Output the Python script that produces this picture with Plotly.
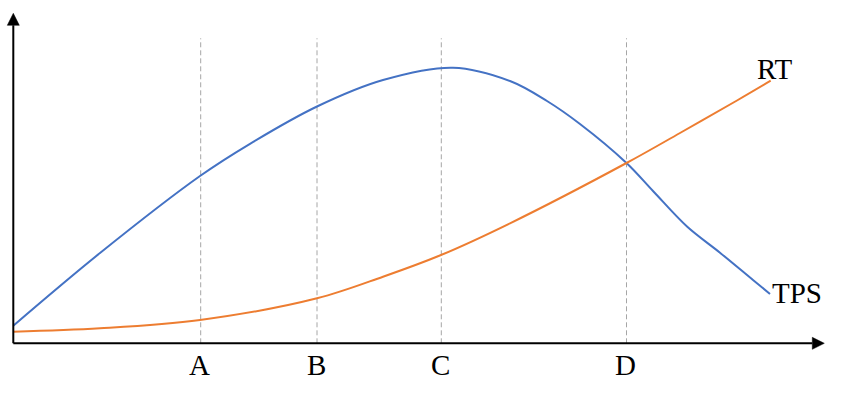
import plotly.graph_objects as go

# Values (chart units: x to the right of the y-axis, y above the x-axis)
tps_x = [0, 86.7, 186.7, 236.7, 303.7, 369.7, 439.7, 496.7, 533.7, 566.7, 613.2, 639.7, 673.7, 706.7, 739.7, 756.7]
tps_y = [17.6, 90.3, 167.3, 199.5, 236.8, 263.3, 275.6, 262.3, 242.3, 219.3, 180.3, 152.3, 116.8, 90.6, 63.3, 49.3]
rt_x = [0, 86.7, 186.7, 303.7, 369.7, 427.7, 496.7, 613.2, 666.7, 723.7, 757.4]
rt_y = [11.6, 15, 23.3, 45, 66.6, 88.3, 120, 180.3, 210.3, 242.8, 262.6]
marker_labels = ["A", "B", "C", "D"]
marker_x = [187.4, 303.7, 428, 613.2]
series_names = ["TPS", "RT"]

BLUE = "#4472C4"
ORANGE = "#ED7D31"
FONT = "Liberation Serif"

X_RANGE = [-13.3, 827.7]
Y_RANGE = [-55.7, 343.3]
DASH_TOP = 305
X_ARROW_TIP = 811
Y_ARROW_TIP = 330
ARROW_LEN = 12
ARROW_HALF = 6

fig = go.Figure()

fig.add_trace(go.Scatter(x=tps_x, y=tps_y, mode="lines", name=series_names[0],
                         line=dict(color=BLUE, width=2, shape="spline", smoothing=1.0),
                         hoverinfo="skip"))
fig.add_trace(go.Scatter(x=rt_x, y=rt_y, mode="lines", name=series_names[1],
                         line=dict(color=ORANGE, width=2, shape="spline", smoothing=1.0),
                         hoverinfo="skip"))

shapes = []
for mx in marker_x:
    shapes.append(dict(type="line", xref="x", yref="y", x0=mx, x1=mx, y0=0, y1=DASH_TOP,
                       line=dict(color="#A6A6A6", width=1, dash="5px,3px"), layer="below"))
# axes
shapes.append(dict(type="line", xref="x", yref="y", x0=0, x1=X_ARROW_TIP - ARROW_LEN, y0=0, y1=0,
                   line=dict(color="black", width=2)))
shapes.append(dict(type="line", xref="x", yref="y", x0=0, x1=0, y0=0, y1=Y_ARROW_TIP - ARROW_LEN,
                   line=dict(color="black", width=2)))
# arrow heads
shapes.append(dict(type="path", xref="x", yref="y",
                   path=f"M {X_ARROW_TIP} 0 L {X_ARROW_TIP-ARROW_LEN} {ARROW_HALF} L {X_ARROW_TIP-ARROW_LEN} {-ARROW_HALF} Z",
                   fillcolor="black", line=dict(color="black", width=0.5)))
shapes.append(dict(type="path", xref="x", yref="y",
                   path=f"M 0 {Y_ARROW_TIP} L {ARROW_HALF} {Y_ARROW_TIP-ARROW_LEN} L {-ARROW_HALF} {Y_ARROW_TIP-ARROW_LEN} Z",
                   fillcolor="black", line=dict(color="black", width=0.5)))

label_font = dict(family=FONT, size=29, color="black")
annotations = []
for lab, mx in zip(marker_labels, marker_x):
    annotations.append(dict(x=mx - 1, y=-21.7, xref="x", yref="y", text=lab, showarrow=False,
                            font=label_font, xanchor="center", yanchor="middle"))
annotations.append(dict(x=rt_x[-1] + 3.8, y=rt_y[-1] + 11.7, xref="x", yref="y", text=series_names[1],
                        showarrow=False, font=label_font, xanchor="center", yanchor="middle"))
annotations.append(dict(x=tps_x[-1] + 27, y=tps_y[-1] + 1.5, xref="x", yref="y", text=series_names[0],
                        showarrow=False, font=label_font, xanchor="center", yanchor="middle"))

fig.update_layout(
    width=841, height=399,
    margin=dict(l=0, r=0, t=0, b=0),
    paper_bgcolor="white", plot_bgcolor="white",
    showlegend=False,
    shapes=shapes, annotations=annotations,
    xaxis=dict(range=X_RANGE, visible=False, fixedrange=True),
    yaxis=dict(range=Y_RANGE, visible=False, fixedrange=True),
)

fig.write_html("out.html", config={"displayModeBar": False})
